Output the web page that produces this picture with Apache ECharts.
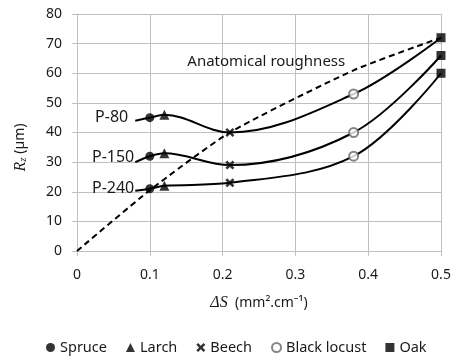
<!DOCTYPE html>
<html>
<head>
<meta charset="utf-8">
<script src="https://cdn.jsdelivr.net/npm/echarts@6/dist/echarts.min.js"></script>
<style>
  html, body { margin: 0; padding: 0; background: #fff; }
  #chart { width: 454px; height: 357px; }
</style>
</head>
<body>
<div id="chart"></div>
<script>
// species positions on the x axis and Rz values for each grit
const species = ['Spruce', 'Larch', 'Beech', 'Black locust', 'Oak']
const deltaS = [0.1, 0.12, 0.21, 0.38, 0.5]
const p80 = [45, 46, 40, 53, 72]
const p150 = [32, 33, 29, 40, 66]
const p240 = [21, 22, 23, 32, 60]

// start of the short leader from each grit label to its curve
const leadX = 0.08
const leadY = { 'P-80': 44, 'P-150': 30, 'P-240': 20.3 }
const labelShift = { 'P-80': [-6, -3], 'P-150': [0, -5], 'P-240': [0, -2] }

// anatomical roughness (dashed)
const anatX = [0, 0.1, 0.21, 0.38, 0.5]
const anatY = [0, 20.5, 40, 61, 72]

const xTicks = [0, 0.1, 0.2, 0.3, 0.4, 0.5]

const font = '"Noto Sans", sans-serif'
const ink = '#1a1a1a'
const gridColor = '#bfbfbf'

const symbols = {
  'Spruce': { symbol: 'circle', size: 9, style: { color: '#000' } },
  'Larch': { symbol: 'triangle', size: 10, style: { color: '#000' } },
  'Beech': {
    symbol: 'path://M2,0L5,3L8,0L10,2L7,5L10,8L8,10L5,7L2,10L0,8L3,5L0,2Z',
    size: 9,
    style: { color: '#000' }
  },
  'Black locust': { symbol: 'emptyCircle', size: 9, style: { color: '#666', borderWidth: 1.5 } },
  'Oak': { symbol: 'rect', size: 9, style: { color: '#000' } }
}

const grits = [['P-80', p80], ['P-150', p150], ['P-240', p240]]

const curveSeries = grits.map(([name, vals]) => {
  const data = [{
    value: [leadX, leadY[name]],
    label: {
      show: true,
      formatter: name,
      position: 'left',
      distance: 1,
      offset: labelShift[name],
      fontFamily: font,
      fontSize: 16,
      color: ink
    }
  }]
  deltaS.forEach((x, i) => data.push([x, vals[i]]))
  return {
    name: name,
    type: 'line',
    data: data,
    smooth: 0.35,
    symbol: 'circle',
    symbolSize: 0,
    showSymbol: true,
    lineStyle: { color: '#000', width: 2 },
    itemStyle: { color: '#000' },
    z: 3
  }
})

const anatSeries = {
  name: 'Anatomical roughness',
  type: 'line',
  data: anatX.map((x, i) => [x, anatY[i]]),
  smooth: 0.2,
  symbol: 'none',
  lineStyle: { color: '#000', width: 2, type: [6, 4] },
  markPoint: {
    symbol: 'circle',
    symbolSize: 0,
    data: [{ coord: [0.26, 64] }],
    label: {
      show: true,
      formatter: 'Anatomical roughness',
      fontFamily: font,
      fontSize: 15,
      color: ink
    }
  },
  z: 2
}

const speciesSeries = species.map((name, i) => ({
  name: name,
  type: 'scatter',
  data: [[deltaS[i], p80[i]], [deltaS[i], p150[i]], [deltaS[i], p240[i]]],
  symbol: symbols[name].symbol,
  symbolSize: symbols[name].size,
  itemStyle: symbols[name].style,
  z: 5
}))

const chart = echarts.init(document.getElementById('chart'), null, { renderer: 'canvas' })

chart.setOption({
  animation: false,
  grid: { left: 77, right: 13, top: 14, bottom: 106, containLabel: false },
  legend: {
    data: species,
    left: 46,
    top: 340,
    padding: 0,
    itemWidth: 9,
    itemHeight: 9,
    itemGap: 19,
    textStyle: { fontFamily: font, fontSize: 14.5, color: ink }
  },
  xAxis: {
    type: 'value',
    min: 0,
    max: 0.5,
    interval: 0.1,
    name: '{d|ΔS}  (mm².cm⁻¹)',
    nameLocation: 'middle',
    nameGap: 44,
    nameTextStyle: {
      fontFamily: font,
      fontSize: 14,
      color: ink,
      rich: {
        d: { fontFamily: '"Liberation Serif", serif', fontStyle: 'italic', fontSize: 16, color: ink }
      }
    },
    axisLine: { show: false },
    axisTick: { show: true, length: 5, lineStyle: { color: gridColor } },
    axisLabel: {
      margin: 17,
      fontFamily: font,
      fontSize: 14,
      color: ink,
      formatter: (v) => String(xTicks.find((t) => Math.abs(t - v) < 1e-9) ?? v)
    },
    splitLine: { show: true, lineStyle: { color: gridColor, width: 1 } }
  },
  yAxis: {
    type: 'value',
    min: 0,
    max: 80,
    interval: 10,
    name: '{r|R}{s|z} (µm)',
    nameLocation: 'middle',
    nameRotate: 90,
    nameGap: 48,
    nameTextStyle: {
      fontFamily: font,
      fontSize: 14,
      color: ink,
      padding: [0, 30, 0, 0],
      rich: {
        r: { fontFamily: '"Liberation Serif", serif', fontStyle: 'italic', fontSize: 16, color: ink },
        s: { fontFamily: '"Liberation Serif", serif', fontStyle: 'italic', fontSize: 11, color: ink, verticalAlign: 'bottom', padding: [6, 0, 0, 0] }
      }
    },
    axisLine: { show: true, lineStyle: { color: gridColor } },
    axisTick: { show: true, length: 5, lineStyle: { color: gridColor } },
    axisLabel: { margin: 15, fontFamily: font, fontSize: 14, color: ink },
    splitLine: { show: true, lineStyle: { color: gridColor, width: 1 } }
  },
  series: [anatSeries, ...curveSeries, ...speciesSeries]
})
</script>
</body>
</html>
